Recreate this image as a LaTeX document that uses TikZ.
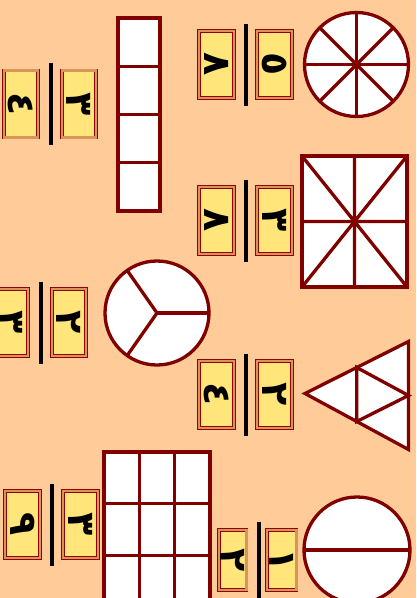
\documentclass[tikz,border=0pt]{standalone}
\usepackage{fontspec}
\usepackage{tikz}
\usetikzlibrary{calc}
\newfontfamily\arabicfont[Script=Arabic]{DejaVu Sans}
\definecolor{durazno}{HTML}{FFCC99}
\definecolor{amarillo}{HTML}{FFE57A}
\definecolor{marron}{HTML}{D8955A}
\definecolor{granate}{HTML}{800000}

\begin{document}
\begin{tikzpicture}[x=1pt,y=-1pt,
  ficha/.style={draw=granate!85!red,line width=0.6pt,double=marron,double distance=2.4pt,
                fill=amarillo,rotate=-90,minimum width=67pt,minimum height=34.5pt,inner sep=0pt,
                font=\arabicfont\bfseries\fontsize{38}{38}\selectfont},
  barra/.style={line width=4pt,black},
  figura/.style={draw=granate,line width=3.3pt,fill=white}]
  \useasboundingbox (0,0) rectangle (416,598);
  \fill[durazno] (0,0) rectangle (416,598);
  \clip (0,0) rectangle (416,598);
  % fracciones (denominador a la izquierda, numerador a la derecha)
  \foreach \n/\bx/\by/\d/\u in {1/50.5/104/٤/٣, 2/246/64.5/٨/٥, 3/246/220.5/٨/٣,
                                4/40.5/322.5/٣/٢, 5/246/394.5/٤/٢, 6/52/524.5/٩/٣}{
    \node[ficha] (den\n) at (\bx-29.5,\by) {\d};
    \node[ficha] (num\n) at (\bx+28.5,\by) {\u};
    \draw[barra] (\bx,\by-41) -- (\bx,\by+41);
  }
  \node[ficha,minimum width=60pt,minimum height=27.5pt] (den7) at (232.8,559.7) {٢};
  \node[ficha,minimum width=60pt,minimum height=29.5pt] (num7) at (281.7,559.7) {١};
  \draw[barra] (258.7,521.7) -- (258.7,610);
  % rectangulo de cuatro
  \draw[figura] (118,18) rectangle (160,211);
  \foreach \y in {66.25,114.5,162.75}{
    \draw[figura] (118,\y) -- (160,\y);
  }
  % circulo de ocho
  \coordinate (c8) at (356.5,64.5);
  \draw[figura] (c8) circle (52);
  \foreach \a in {0,45,90,135}{
    \draw[figura] ($(c8)+(\a:52)$) -- ($(c8)+(\a+180:52)$);
  }
  % rectangulo de ocho triangulos
  \draw[figura] (302,156) rectangle (407,287);
  \draw[figura] (302,156) -- (407,287) (407,156) -- (302,287)
                (354.5,156) -- (354.5,287) (302,221.5) -- (407,221.5);
  % circulo de tres
  \coordinate (c3) at (157,313);
  \draw[figura] (c3) circle (52);
  \foreach \a in {0,125,-125}{
    \draw[figura] (c3) -- ++(\a:52);
  }
  % triangulo
  \coordinate (A) at (305,393.5);
  \coordinate (B) at (408.5,341.5);
  \coordinate (C) at (408.5,449.5);
  \draw[figura] (A) -- (B) -- (C) -- cycle;
  \draw[figura] ($(A)!.5!(B)$) -- ($(A)!.5!(C)$) -- ($(B)!.5!(C)$) -- cycle;
  % rectangulo de nueve
  \draw[figura] (104,452) rectangle (210,607);
  \foreach \x in {139.33,174.67}{
    \draw[figura] (\x,452) -- (\x,607);
  }
  \foreach \y in {503.67,555.33}{
    \draw[figura] (104,\y) -- (210,\y);
  }
  % circulo de dos
  \coordinate (c2) at (357,550);
  \draw[figura] (c2) circle (53);
  \draw[figura] ($(c2)+(-53,0)$) -- ($(c2)+(53,0)$);
\end{tikzpicture}
\end{document}
